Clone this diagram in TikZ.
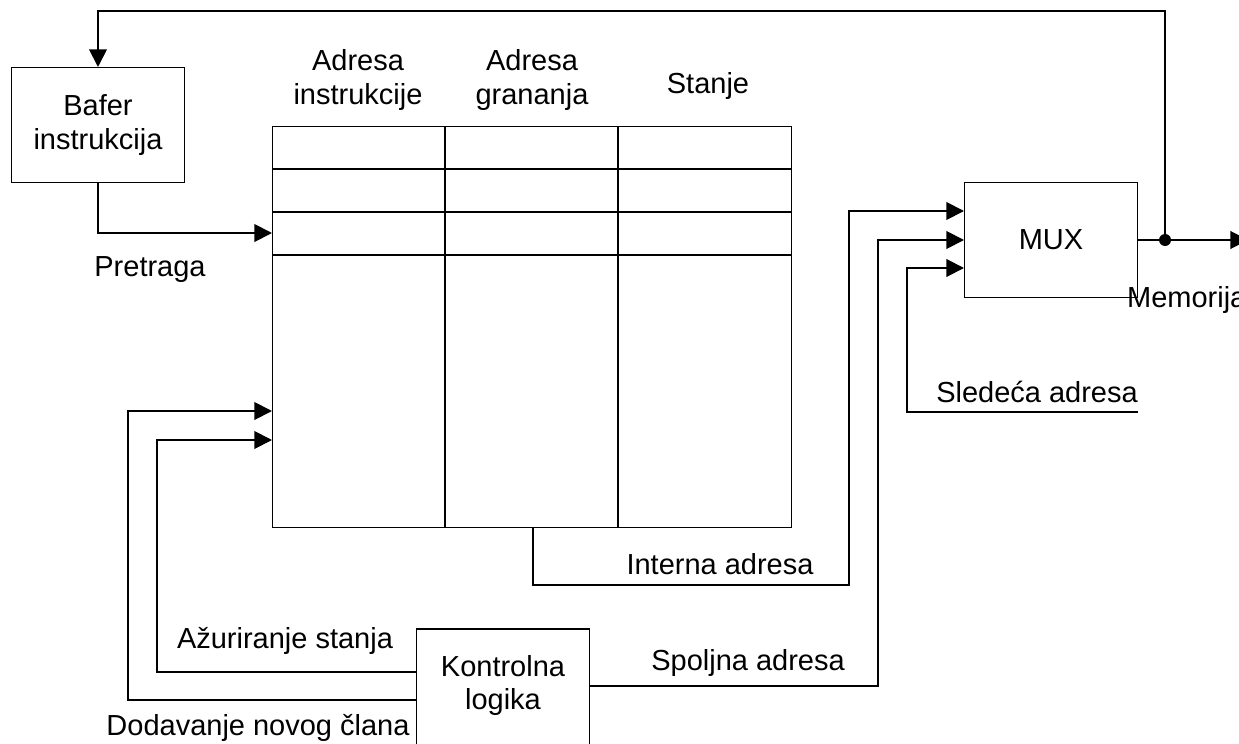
\documentclass[tikz,border=0pt]{standalone}
\usepackage{fontspec}
\setmainfont{Liberation Sans}
\usetikzlibrary{arrows.meta,positioning}

\begin{document}
\begin{tikzpicture}[x=0.02cm, y=-0.02cm, font=\fontsize{16.5}{19}\selectfont,
  blok/.style={draw, line width=0.6pt, minimum width=3.46cm, minimum height=2.3cm, align=center, inner sep=0pt},
  veza/.style={line width=1.1pt},
  strelica/.style={veza, -{Triangle[length=10pt,width=10pt]}},
  natpis/.style={align=center, inner sep=1pt}]

\useasboundingbox (0,0) rectangle (1239,743);

% Blokovi
\node[blok] (bafer) at (98,125) {Bafer\\instrukcija};
\node[blok] (mux) at (1051,240) {MUX};
\node[blok, minimum height=2.6cm] (kl) at (503,694) {Kontrolna\\logika\\[-6pt]\mbox{}};

% Tabela
\node[draw, line width=0.6pt, minimum width=10.4cm, minimum height=8.04cm, inner sep=0pt] (tab) at (532,327) {};
\foreach \x in {445, 618}
  \draw[line width=0.6pt] (\x,126) -- (\x,528);
\foreach \y in {169, 212, 255}
  \draw[line width=0.6pt] (272,\y) -- (792,\y);

\node[natpis] (ai) at (358,80) {Adresa\\instrukcije};
\node[natpis] (ag) at (532,80) {Adresa\\grananja};
\node[natpis] (st) at (708,86) {Stanje};

% Tacke prikljucenja
\coordinate (t1) at (272,233);
\coordinate (t2) at (272,411);
\coordinate (t3) at (272,440);
\coordinate (m1) at (964,211);
\coordinate (m2) at (964,240);
\coordinate (m3) at (964,268);
\coordinate (izl) at (533,528);
\coordinate (k1) at (416,672);
\coordinate (k2) at (416,700);
\coordinate (k3) at (589,686);
\coordinate (sl) at (1138,412);
\coordinate (jn) at (1165,240);
\coordinate (vrh) at (98,11);
\coordinate (kraj) at (1248,240);

% Veze
\draw[strelica] (jn) |- (vrh) -- (bafer.north);
\draw[strelica] (bafer.south) |- (t1);
\draw[strelica] (izl) |- (849,585) |- (m1);
\draw[strelica] (k3) -| (878,240) -- (m2);
\draw[strelica] (sl) -| (907,268) -- (m3);
\draw[strelica] (k1) -| (157,440) -- (t3);
\draw[strelica] (k2) -| (128,411) -- (t2);
\draw[strelica] (mux.east) -- (kraj);
\fill (jn) circle (6);

% Natpisi
\node[natpis] (pr) at (150,270) {Pretraga};
\node[natpis] (ia) at (720,564) {Interna adresa};
\node[natpis] (sa) at (748,663) {Spoljna adresa};
\node[natpis] (sla) at (1037,392) {Sledeća adresa};
\node[natpis, anchor=west] (mem) at (1125,300) {Memorija};
\node[natpis] (az) at (285,641) {Ažuriranje stanja};
\node[natpis] (dn) at (258,728) {Dodavanje novog člana};

\end{tikzpicture}
\end{document}
